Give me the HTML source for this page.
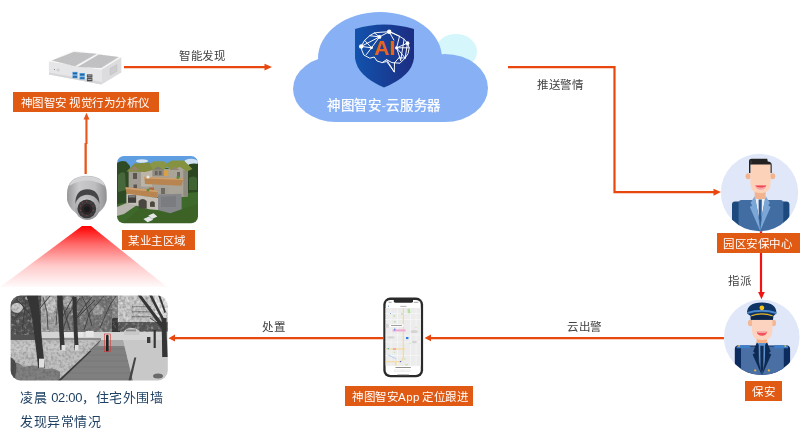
<!DOCTYPE html>
<html lang="zh-CN">
<head>
<meta charset="utf-8">
<style>
html,body{margin:0;padding:0;background:#fff;}
body{width:800px;height:437px;overflow:hidden;position:relative;font-family:"Liberation Sans",sans-serif;}
svg{position:absolute;left:0;top:0;}
.t{position:absolute;white-space:nowrap;line-height:1;will-change:transform;}
.lbl{position:absolute;background:#E05A14;color:#fff;font-size:11.5px;letter-spacing:0.5px;line-height:22px;height:20px;white-space:nowrap;box-sizing:border-box;will-change:transform;}
.cap{color:#444;font-size:11.5px;letter-spacing:0.5px;}
</style>
</head>
<body>
<svg width="800" height="437" viewBox="0 0 800 437">
  <defs>
    <linearGradient id="shieldG" x1="0" y1="0" x2="1" y2="0">
      <stop offset="0" stop-color="#1253AD"/>
      <stop offset="1" stop-color="#1C2D82"/>
    </linearGradient>
    <linearGradient id="redG" x1="0" y1="0" x2="0" y2="1">
      <stop offset="0" stop-color="#FF0000"/>
      <stop offset="0.3" stop-color="#FF6A6A"/>
      <stop offset="0.65" stop-color="#FFCACA"/>
      <stop offset="1" stop-color="#FFFAFA"/>
    </linearGradient>
    <clipPath id="c1"><circle cx="759.5" cy="192.5" r="38.7"/></clipPath>
    <clipPath id="c2"><circle cx="761.7" cy="337.3" r="37.8"/></clipPath>
  </defs>

  <!-- mini pc -->
  <g id="minipc">
    <polygon points="48.75,61.2 101.3,69.4 101.5,84.4 49,74.5" fill="#E6E6E8"/>
    <polygon points="49,72.5 101.5,82 101.5,84.4 49,74.5" fill="#D6D6D8"/>
    <polygon points="101.3,69.4 121.3,57.3 121.3,72.5 101.5,84.4" fill="#DCDCDE"/>
    <polygon points="48.75,61.2 73.5,50.5 121.3,57.3 101.3,69.4" fill="#F5F5F5"/>
    <polygon points="51.9,60.6 73.75,51.9 96.9,53.75 75,66.25" fill="#C2C2C4"/>
    <polygon points="77.5,66.9 98.75,54.4 118.75,56.9 101.25,68.1" fill="#C2C2C4"/>
    <g stroke="#B0B0B2" stroke-width="0.3" opacity="0.8">
      <line x1="55" y1="60.5" x2="76" y2="52.2"/><line x1="59" y1="61.8" x2="80" y2="52.6"/>
      <line x1="63" y1="63.1" x2="84" y2="53"/><line x1="67" y1="64.4" x2="88" y2="53.4"/><line x1="71" y1="65.5" x2="92" y2="53.7"/>
      <line x1="81" y1="66.4" x2="102" y2="54.9"/><line x1="86" y1="67" x2="106" y2="55.4"/>
      <line x1="91" y1="67.5" x2="110" y2="55.9"/><line x1="96" y1="67.9" x2="114" y2="56.4"/>
    </g>
    <circle cx="58.1" cy="70" r="1.2" fill="#D8D8DA" stroke="#BBBBBD" stroke-width="0.4"/>
    <circle cx="54.4" cy="69.6" r="0.5" fill="#666"/>
    <rect x="72.5" y="71.9" width="5" height="2.9" fill="#3D8FD6"/>
    <rect x="72.5" y="75.3" width="5" height="2.9" fill="#3D8FD6"/>
    <rect x="79.6" y="73.1" width="5.2" height="2.9" fill="#3D8FD6"/>
    <rect x="79.6" y="76.5" width="5.2" height="2.9" fill="#3D8FD6"/>
    <rect x="73.1" y="73.1" width="3.8" height="0.8" fill="#1F4F80"/>
    <rect x="73.1" y="76.5" width="3.8" height="0.8" fill="#1F4F80"/>
    <rect x="80.3" y="74.3" width="3.8" height="0.8" fill="#1F4F80"/>
    <rect x="80.3" y="77.7" width="3.8" height="0.8" fill="#1F4F80"/>
    <rect x="86.9" y="74.4" width="5.5" height="3.2" fill="#48484A"/>
    <rect x="86.9" y="78.1" width="5.5" height="3.2" fill="#48484A"/>
    <rect x="87.7" y="75.3" width="3.9" height="1" fill="#A8A8A8"/>
    <rect x="87.7" y="79" width="3.9" height="1" fill="#A8A8A8"/>
    <polygon points="110,68.5 116.9,64.6 116.9,71.4 110,75.2" fill="#CDCDD0" stroke="#B8B8BB" stroke-width="0.4"/>
  </g>

  <!-- camera -->
  <g id="cam">
    <defs>
      <linearGradient id="camG" x1="0" y1="0" x2="1" y2="0">
        <stop offset="0" stop-color="#98989A"/>
        <stop offset="0.3" stop-color="#CACACC"/>
        <stop offset="0.7" stop-color="#BEBEC0"/>
        <stop offset="1" stop-color="#909092"/>
      </linearGradient>
      <radialGradient id="ballG" cx="0.4" cy="0.3" r="0.8">
        <stop offset="0" stop-color="#D0D0D2"/>
        <stop offset="1" stop-color="#8E8E90"/>
      </radialGradient>
    </defs>
    <path d="M67,194 Q67,176 87,175.7 Q106.7,176 106.7,194 L106.7,200 Q104,213 87,218.5 Q70,213 67,200 Z" fill="url(#camG)"/>
    <path d="M69,186 Q72,177 87,176.6 Q102,177 105,186 Q96,180.5 87,180.5 Q78,180.5 69,186 Z" fill="#D4D4D6"/>
    <path d="M75.3,204 Q75.3,189.2 87.3,189.2 Q99.4,189.2 99.4,204 Z" fill="#454547"/>
    <circle cx="87.3" cy="207.3" r="12.6" fill="url(#ballG)"/>
    <circle cx="86.8" cy="208.8" r="9.4" fill="#38383A"/>
    <circle cx="87" cy="209.2" r="5.4" fill="#2A2426"/>
    <circle cx="87" cy="209.2" r="2.8" fill="#1A1A1C"/>
    <g fill="#8A4A4A">
      <circle cx="80.6" cy="205.9" r="0.6"/><circle cx="82.5" cy="202.8" r="0.6"/><circle cx="86.8" cy="201.6" r="0.6"/>
      <circle cx="91.1" cy="202.8" r="0.6"/><circle cx="93" cy="205.9" r="0.6"/><circle cx="93.1" cy="210.4" r="0.6"/>
      <circle cx="91" cy="214.0" r="0.6"/><circle cx="86.8" cy="215.6" r="0.6"/><circle cx="82.6" cy="214.0" r="0.6"/>
      <circle cx="80.5" cy="210.4" r="0.6"/>
    </g>
  </g>

  <!-- house photo -->
  <clipPath id="hc"><rect x="117" y="156" width="81" height="67.2" rx="7"/></clipPath>
  <filter id="soft2" x="-5%" y="-5%" width="110%" height="110%"><feGaussianBlur stdDeviation="0.35"/></filter>
  <g clip-path="url(#hc)"><g filter="url(#soft2)">
    <rect x="115" y="154" width="85" height="72" fill="#3A5E28"/>
    <rect x="115" y="154" width="85" height="14" fill="#5E9EE0"/>
    <ellipse cx="142" cy="161" rx="6" ry="1.8" fill="#D8E6F4"/>
    <ellipse cx="191" cy="162" rx="7" ry="3.2" fill="#D2E2F2"/>
    <!-- trees -->
    <path d="M117,163 Q121,160 126,161.5 L130,166 L130,203 L117,205 Z" fill="#2F4C25"/>
    <path d="M118,175 Q121,171 125,173 L126,190 L118,192 Z" fill="#46683A"/>
    <path d="M186.5,166 Q191,162.5 198,164 L198,196 L186.5,196 Z" fill="#2B4722"/>
    <path d="M189,178 Q193,175 197,178 L197,190 L189,190 Z" fill="#3F6432"/>
    <!-- lawn -->
    <path d="M117,204 L130,202 L158,209 L181.6,193.5 L198,192 L198,224 L117,224 Z" fill="#3E6A2A"/>
    <path d="M121.5,224 L140,208.5 L170,213.5 L198,204 L198,224 Z" fill="#3C6228"/>
    <!-- path -->
    <polygon points="117,207 128,202.5 137,205 124,214 117,216" fill="#B8B4AE"/>
    <!-- walls -->
    <polygon points="128.8,169 188,169 188,196.5 181.6,197 170,199 158,197 128.8,195" fill="#A4A096"/>
    <rect x="128.8" y="170" width="12.5" height="24.6" fill="#A09C94"/>
    <rect x="141" y="170" width="12.4" height="16.5" fill="#BCB4A6"/>
    <rect x="152.4" y="168.5" width="11.5" height="8.5" fill="#8E8A82"/>
    <rect x="163.8" y="170.3" width="4.8" height="8.1" fill="#D8A048"/>
    <rect x="168.6" y="167" width="14.7" height="27.6" fill="#A8A498"/>
    <rect x="183.3" y="170.3" width="4.7" height="26" fill="#8E8A80"/>
    <rect x="152" y="176" width="17" height="12" fill="#A6A298"/>
    <!-- roofs -->
    <polygon points="126.5,171.5 134.5,163.5 150,162.5 153,170 145,172" fill="#808B3E"/>
    <polygon points="150,163.8 154,161.3 163.8,161.3 169.4,165.4 163.8,169.4 152.4,169.4" fill="#8A9646"/>
    <polygon points="166,164 171.9,160.5 184,160.5 192.5,169 187,171.5 180,167 170.3,170" fill="#85923F"/>
    <polygon points="129.5,170.3 134.5,166 140,170.3" fill="#93846E"/>
    <polygon points="153,169.4 158,166.5 163,169.4" fill="#7E7A72"/>
    <polygon points="170.5,170 174.5,166.5 179.5,170" fill="#928672"/>
    <!-- windows -->
    <rect x="133" y="173" width="4" height="6" fill="#5A564F"/>
    <rect x="133.5" y="184.5" width="3.5" height="4.5" fill="#5A564F"/>
    <rect x="155" y="171" width="2.5" height="4" fill="#66625B"/>
    <rect x="159" y="171" width="2.5" height="4" fill="#66625B"/>
    <rect x="177" y="172" width="3" height="5" fill="#6A665E"/>
    <rect x="149" y="187.5" width="5" height="6" fill="#B0683A"/>
    <rect x="161" y="188" width="4" height="6" fill="#6E6A62"/>
    <!-- balconies -->
    <polygon points="144.3,176.8 183.3,178.4 181.6,185.7 145,184" fill="#B88450"/>
    <polygon points="144.3,176.8 183.3,178.4 183.2,180 144.4,178.4" fill="#CFA070"/>
    <polygon points="125.6,187.3 158,190.6 157.3,197.9 126.4,193.8" fill="#B88450"/>
    <polygon points="125.6,187.3 158,190.6 157.9,192.2 125.7,188.9" fill="#CFA070"/>
    <circle cx="148" cy="177" r="1.6" fill="#E8E8E4"/>
    <circle cx="178" cy="177.5" r="1.6" fill="#5E8A3A"/>
    <circle cx="148" cy="190" r="1.5" fill="#5E8A3A"/>
    <!-- base -->
    <polygon points="126.4,193.8 158,197.9 158,210 149.1,209.3 126.4,202.8" fill="#C4C0B8"/>
    <rect x="128" y="195.4" width="8.1" height="7.4" fill="#403E3A"/>
    <rect x="128.5" y="196.2" width="7" height="1.2" fill="#8A8A88"/>
    <path d="M138.6,208.4 L138.6,201 Q142.6,197.2 146.7,201 L146.7,208.6 Z" fill="#4A4640"/>
    <path d="M150,206.8 L150,202.6 Q152.4,200 154.8,202.6 L154.8,207 Z" fill="#4A4640"/>
    <polygon points="158,194.6 181.6,193.8 181.6,209.3 170.3,213.3 158,210" fill="#85878A"/>
    <polygon points="161,197 176,196 176,207 161,207" fill="#7A7C80"/>
    <!-- chairs -->
    <polygon points="143.4,219 149,216.6 153.2,219.8 147.6,222.3" fill="#E4E6E8"/>
    <polygon points="148.3,215.6 153.5,213.3 157.3,216.4 152,219" fill="#E4E6E8"/>
  </g></g>

  <!-- surveillance photo -->
  <filter id="noise" x="0" y="0" width="100%" height="100%">
    <feTurbulence type="fractalNoise" baseFrequency="0.35" numOctaves="2" seed="3" result="n"/>
    <feColorMatrix type="matrix" values="0 0 0 0 0  0 0 0 0 0  0 0 0 0 0  0 0 0 -2.2 1.3" in="n" result="a"/>
    <feComposite in="SourceGraphic" in2="a" operator="in"/>
  </filter>
  <filter id="noiseW" x="0" y="0" width="100%" height="100%">
    <feTurbulence type="fractalNoise" baseFrequency="0.3" numOctaves="2" seed="7" result="n"/>
    <feColorMatrix type="matrix" values="0 0 0 0 1  0 0 0 0 1  0 0 0 0 1  0 0 0 2.4 -1.25" in="n"/>
  </filter>
  <clipPath id="pc"><rect x="10.6" y="295.5" width="157.2" height="85" rx="10"/></clipPath>
  <filter id="soft" x="-5%" y="-5%" width="110%" height="110%"><feGaussianBlur stdDeviation="0.45"/></filter>
  <g clip-path="url(#pc)"><g filter="url(#soft)">
    <rect x="8" y="293" width="164" height="90" fill="#B4B4B4"/>
    <!-- top foliage zone -->
    <rect x="10" y="295" width="160" height="39" fill="#8A8A8A"/>
    <rect x="10" y="295" width="31" height="45" fill="#525252"/>
    <ellipse cx="17" cy="308" rx="6" ry="5" fill="#C8C8C8"/>
    <ellipse cx="32" cy="298" rx="7" ry="3" fill="#B0B0B0"/>
    <rect x="41" y="295" width="19" height="38" fill="#A4A4A4"/>
    <ellipse cx="51" cy="305" rx="5" ry="8" fill="#C4C4C4"/>
    <rect x="60" y="295" width="52" height="37" fill="#747474"/>
    <ellipse cx="68" cy="302" rx="5" ry="6" fill="#A8A8A8"/>
    <ellipse cx="98" cy="310" rx="6" ry="5" fill="#9A9A9A"/>
    <rect x="112" y="318" width="8" height="17" fill="#3A3A3A"/>
    <rect x="118" y="295" width="50" height="27" fill="#C8C8C8"/>
    <rect x="155" y="295" width="14" height="22" fill="#E6E6E6"/>
    <rect x="131.4" y="303" width="20.6" height="19" fill="#C4C4C4"/>
    <g fill="#8A8A8A"><rect x="132" y="306" width="19" height="1.4"/><rect x="132" y="311" width="19" height="1.4"/><rect x="132" y="316" width="19" height="1.4"/></g>
    <rect x="118" y="322" width="50" height="9" fill="#5A5A5A"/>
    <rect x="10" y="295" width="160" height="40" filter="url(#noiseW)" opacity="0.45"/>
    <rect x="10" y="295" width="160" height="40" fill="#222" filter="url(#noise)" opacity="0.3"/>
    <g stroke="#3A3A3A" stroke-width="0.8" fill="none">
      <path d="M62,332 L68,315 L80,298"/><path d="M70,330 L64,310 L60,297"/><path d="M84,330 L90,312 L104,296"/>
      <path d="M92,326 L86,305 L82,296"/><path d="M100,328 L110,305 L116,296"/><path d="M75,320 L95,300"/>
      <path d="M22,330 L26,300"/><path d="M14,320 L24,308"/><path d="M48,330 L47,312 L43,297"/><path d="M56,325 L58,300"/>
    </g>
    <!-- light ground band -->
    <rect x="41" y="332" width="129" height="9" fill="#D4D4D4"/>
    <g fill="#E6E6E6"><rect x="64" y="332" width="9" height="5"/><rect x="77.5" y="332" width="6" height="5"/><rect x="85.7" y="331" width="8" height="6"/></g>
    <rect x="41" y="338" width="60" height="2.5" fill="#8E8E8E"/>
    <!-- car -->
    <path d="M124,335 L124,331 Q127,327.5 132,328 Q137,328 139.6,331 L139.6,335 Z" fill="#C8C8C8"/>
    <rect x="126" y="329.5" width="10" height="1.8" fill="#8A8A8A"/>
    <!-- left lawn -->
    <polygon points="10,340 101,340 60,381 10,381" fill="#C0C0C0"/>
    <polygon points="10,342 60,345 90,342 60,352 10,352" fill="#C8C8C8"/>
    <path d="M10,363 Q18,361 24,367 Q35,363 45,369 Q54,367 60,372 L60,381 L10,381 Z" fill="#808080"/>
    <path d="M10,357 Q16,359 16.5,368 Q16,376 13,381 L10,381 Z" fill="#4E4E4E"/>
    <polygon points="10,340 101,340 60,381 10,381" fill="#333" filter="url(#noise)" opacity="0.3"/>
    <!-- path -->
    <polygon points="100.6,340 123,340 133,381 59,381" fill="#808080"/>
    <polygon points="100.6,340 123,340 125,346 98,346" fill="#A8A8A8"/>
    <g stroke="#6E6E6E" stroke-width="0.45">
      <line x1="92" y1="349" x2="126" y2="349"/><line x1="86" y1="355" x2="127.5" y2="355"/>
      <line x1="80" y1="361" x2="129" y2="361"/><line x1="74" y1="367" x2="130" y2="367"/>
      <line x1="68" y1="373" x2="131.5" y2="373"/><line x1="62" y1="379" x2="133" y2="379"/>
    </g>
    <polygon points="89.6,351 91.5,351 60.3,381 57.5,381" fill="#3A3A3A"/>
    <line x1="100.6" y1="340.3" x2="89.6" y2="351" stroke="#555" stroke-width="1"/>
    <!-- right lawn -->
    <polygon points="123,340 170,340 170,381 133,381" fill="#C8C8C8"/>
    <polygon points="134.3,357.6 136.3,357.6 130.9,381 128.4,381" fill="#454545"/>
    <ellipse cx="158" cy="376" rx="5" ry="2.5" fill="#6A6A6A"/>
    <rect x="147" y="337" width="3.4" height="6" fill="#3A3A3A"/>
    <!-- trees -->
    <g fill="#353535">
      <path d="M26,295 L38.5,295 Q38.5,305 40,316 Q42,345 45.2,368 L38.3,368 Q35,340 32.5,320 Q30,305 26,295 Z"/>
      <path d="M57,295 L62.6,295 Q62.6,322 64.9,350 L60.3,350 Q58.8,322 57,295 Z"/>
      <path d="M72.3,297 L76.6,297 Q76.8,325 78.9,350 L74.6,350 Q73.6,325 72.3,297 Z"/>
      <path d="M161.5,318 L166.5,318 Q166.5,338 167.8,357 L162.2,357 Q162,338 161.5,318 Z"/>
      <path d="M153.6,330 L155.8,330 L155.8,348 L153.6,348 Z"/>
      <path d="M137.5,295 L141,295 Q152,310 165.5,327 L162,329 Q150,312 137.5,295 Z"/>
      <path d="M149,295 L152,295 Q158,308 166,322 L163.5,323 Q156,309 149,295 Z"/>
      <path d="M158,295 L160,295 L166,312 L164.5,313 Z"/>
    </g>
    <g stroke="#3A3A3A" stroke-width="0.9" fill="none">
      <path d="M33,318 Q24,306 16,299"/><path d="M37,312 Q44,303 50,296"/><path d="M62,318 Q68,306 74,296"/>
      <path d="M76,318 Q84,306 92,297"/><path d="M163,330 Q158,322 150,318"/>
    </g>
    <g fill="#E0E0E0">
      <rect x="39" y="358.7" width="5.4" height="9"/>
      <rect x="61.5" y="345" width="3.8" height="5.5"/>
      <rect x="75" y="345" width="3.8" height="5.5"/>
    </g>
    <!-- person -->
    <rect x="106" y="336.5" width="2.6" height="15" fill="#222"/>
    <circle cx="107.3" cy="336" r="1.3" fill="#222"/>
  </g>
    <rect x="104.3" y="334" width="6.2" height="17.7" fill="none" stroke="#D23A3A" stroke-width="0.6"/>
  </g>

  <!-- red view cone -->
  <polygon points="82,226 91,226 167,287 0,287" fill="url(#redG)"/>

  <!-- cloud -->
  <ellipse cx="456" cy="51.5" rx="21" ry="17.5" fill="#D5F7FB"/>
  <g fill="#88B1F5">
    <ellipse cx="380" cy="58" rx="62" ry="46"/>
    <ellipse cx="336" cy="89" rx="43" ry="33"/>
    <ellipse cx="445" cy="88" rx="43" ry="34"/>
    <rect x="336" y="80" width="110" height="42"/>
  </g>

  <!-- shield -->
  <path d="M355,29 Q384,20 414,29 L414,58 Q412,76 384,87.5 Q357,76 355,58 Z" fill="url(#shieldG)"/>
  <g stroke="#fff" stroke-width="0.95" fill="none" stroke-linejoin="round" stroke-linecap="round">
    <path d="M361.2,46.4 L364.6,40.3 L369.7,35.7 L374.3,32.9 L380,32.3 L389.2,31.7 L393.8,33.4 L399.5,36.3 L404.1,39.2 L407.5,43.2 L409.2,47.8 L408.1,53.5 L405.2,58 L400,63.2 L394.5,62.8 L394.3,72 L386.6,61.5 L382.2,62.6 L377,61 L374.2,57 L369.8,58.2 L363.8,55 L362,50.6 Z"/>
    <path d="M361.2,46.4 L379.5,36.9 L389.2,31.7 L399.5,36.3"/>
    <path d="M361.2,46.4 L371.5,47.8 L366.3,54.6"/>
    <path d="M369.7,35.7 L379.5,36.9 L374.3,32.9"/>
    <path d="M371.5,47.8 L379.5,36.9"/>
    <path d="M364.6,40.3 L371.5,47.8"/>
    <path d="M396.6,47.8 L407.5,43.2 M396.6,47.8 L409.2,47.8 M396.6,47.8 L405.2,58 M396.6,47.8 L400.7,60.4 M396.6,47.8 L399.5,36.3"/>
    <path d="M404.1,39.2 L400.7,60.4 M407.5,43.2 L405.2,58"/>
    <path d="M382.2,62.6 L386.6,59.6 L391.9,62.6 L394.5,62.8 M386.6,59.6 L394.3,72 M399,57.8 L394.5,62.8 M399,57.8 L405.2,58"/>
    <path d="M389.2,31.7 L393.8,40"/>
  </g>
  <g fill="#fff">
    <circle cx="361.2" cy="46.4" r="2.2"/>
    <circle cx="379.5" cy="36.9" r="1.9"/>
    <circle cx="389.2" cy="31.7" r="2.2"/>
    <circle cx="407.5" cy="43.2" r="1.9"/>
    <circle cx="396.6" cy="47.8" r="1.6"/>
    <circle cx="371.5" cy="47.8" r="1.4"/>
  </g>
  <text x="384.6" y="55.4" text-anchor="middle" font-family="Liberation Sans" font-weight="bold" font-size="21" fill="#E8641E">AI</text>

  <!-- arrows orange -->
  <g stroke="#E8470E" stroke-width="2.2" fill="none">
    <line x1="124" y1="67.2" x2="266" y2="67.2"/>
    <polyline points="508,67.2 614.5,67.2 614.5,192.2 715,192.2"/>
    <line x1="430" y1="338.1" x2="724" y2="338.1"/>
    <line x1="174" y1="338.2" x2="383" y2="338.2"/>
  </g>
  <g fill="#E8470E">
    <polygon points="264.5,63.8 272,67 264.5,70.6"/>
    <polygon points="713.5,188.8 721,192 713.5,195.8"/>
    <polygon points="431,334.5 424.5,338 431,341.3"/>
    <polygon points="175,334.5 168.5,338.3 175,341.5"/>
  </g>
  <!-- vertical arrow from camera to label -->
  <g fill="#E8561A">
    <rect x="84.5" y="143" width="2.3" height="31"/>
    <rect x="85.4" y="118" width="2.1" height="26"/>
    <polygon points="83.5,119.5 86.5,112.8 89.5,119.5"/>
  </g>
  <!-- red arrow 指派 -->
  <rect x="759.9" y="229" width="2.2" height="64" fill="#F01414"/>
  <polygon points="758.1,292 764.8,292 761.5,299.2" fill="#F01414"/>

  <!-- avatar 1 -->
  <circle cx="759.5" cy="192.5" r="38.7" fill="#E0E7F9"/>
  <g clip-path="url(#c1)">
    <!-- suit -->
    <path d="M732,204.5 Q732,201.6 735,201.6 L739,201.6 L739,240 L732,240 Z" fill="#1D4A7E"/>
    <path d="M783,201.6 L786.4,201.6 Q789.4,201.6 789.4,204.5 L789.4,240 L783,240 Z" fill="#1D4A7E"/>
    <path d="M738.6,203 Q738.6,200 741.6,200 L780.3,200 Q783.3,200 783.3,203 L783.3,240 L738.6,240 Z" fill="#416DA3"/>
    <path d="M755,198 L765.4,198 L760.2,223.5 Z" fill="#E9EDF4"/>
    <path d="M758.6,199.5 L761.8,199.5 L761.6,218 L760.2,225.5 L758.8,218 Z" fill="#2D5B93"/>
    <path d="M754.6,196.3 L750.5,203 L752.2,205.3 L749.8,207 L760.2,231 L757.8,212 L755.4,198.5 Z" fill="#7AA7D7"/>
    <path d="M765.8,196.3 L769.9,203 L768.2,205.3 L770.6,207 L760.2,231 L762.6,212 L765,198.5 Z" fill="#7AA7D7"/>
    <!-- neck -->
    <rect x="754.7" y="188" width="10.9" height="11" fill="#F2B48E"/>
    <!-- ears -->
    <ellipse cx="748.2" cy="176.2" rx="2.6" ry="3" fill="#F2B48E"/>
    <ellipse cx="772.6" cy="176.2" rx="2.6" ry="3" fill="#F2B48E"/>
    <!-- face -->
    <path d="M750.4,163.5 L770.6,163.5 L770.6,184 Q770.6,193 760.5,193 Q750.4,193 750.4,184 Z" fill="#FCD3B8"/>
    <!-- hair -->
    <path d="M749,173 L749,161 Q749,158.7 751.5,158.7 L767.2,158.7 L767.8,161.6 Q771.7,162 771.7,165 L771.7,173 L770.6,173 L770.6,164.5 L750.4,164.5 L750.4,173 Z" fill="#222222"/>
    <path d="M751,160.5 L751,165" stroke="#555" stroke-width="0.6"/>
    <!-- mouth -->
    <path d="M755.3,185.6 L766.3,185.6 Q765.5,189.8 760.8,189.8 Q756.1,189.8 755.3,185.6 Z" fill="#F6A3A6"/>
    <path d="M755.3,185.6 L766.3,185.6 Q766,187.4 760.8,187.4 Q755.6,187.4 755.3,185.6 Z" fill="#EF4650"/>
  </g>

  <!-- avatar 2 -->
  <circle cx="761.7" cy="337.3" r="37.8" fill="#E0E7F9"/>
  <g clip-path="url(#c2)">
    <path d="M734.8,349 Q734.8,345.5 738,345.5 L786.8,345.5 Q790.1,345.5 790.1,349 L790.1,380 L734.8,380 Z" fill="#0C2B5E"/>
    <path d="M741,346.5 L783.8,346.5 L783.8,380 L741,380 Z" fill="#4A6FA5"/>
    <path d="M737,345.3 L750.2,345.3 L750.2,348.2 L736.5,348.2 Z" fill="#3D7FCB"/>
    <path d="M774.2,345.3 L787.5,345.3 L788.2,348.2 L774.2,348.2 Z" fill="#3D7FCB"/>
    <circle cx="739.1" cy="345.9" r="1" fill="#E8B42A"/>
    <circle cx="785.3" cy="345.9" r="1" fill="#E8B42A"/>
    <path d="M757.4,342.5 L766.8,342.5 L763.6,365 L761.9,376 L760.2,365 Z" fill="#5E93D4"/>
    <path d="M760.3,345.8 L763.6,345.8 L763.3,368 L761.9,375 L760.5,368 Z" fill="#102A50"/>
    <path d="M757,342 L753.2,351.5 L755,353 L752.6,354.5 L761.9,375.5 L758.8,362 L758.7,345 Z" fill="#0D2A52"/>
    <path d="M767,342 L770.7,351.5 L768.9,353 L771.3,354.5 L761.9,375.5 L765,362 L765.1,345 Z" fill="#0D2A52"/>
    <circle cx="755.2" cy="370.4" r="1.1" fill="#E8B42A"/>
    <circle cx="768.9" cy="370.4" r="1.1" fill="#E8B42A"/>
    <rect x="756.6" y="335" width="10.4" height="8" fill="#F7AE80"/>
    <ellipse cx="750.5" cy="323" rx="2.6" ry="3.2" fill="#F3B796"/>
    <ellipse cx="773.5" cy="323" rx="2.6" ry="3.2" fill="#F3B796"/>
    <path d="M752,316 L772.4,316 L772.4,331 Q772.4,340 762.2,340 Q752,340 752,331 Z" fill="#FBD3BE"/>
    <path d="M756.7,331.8 L767.2,331.8 Q766.4,335.8 762,335.8 Q757.5,335.8 756.7,331.8 Z" fill="#F0555E"/><path d="M756.7,331.8 L767.2,331.8 Q767,333 762,333 Q756.9,333 756.7,331.8 Z" fill="#F7A3A6"/>
    <!-- cap -->
    <path d="M747,313.5 Q746.8,302.5 761.7,302.5 Q776.6,302.5 776.4,313.5 L773.3,316 L773,319.8 L750.8,319.8 L750.6,316 Z" fill="#0F3466"/>
    <path d="M747.2,311.9 Q761.7,307.4 776.2,311.9 L776.2,314 Q761.7,309.5 747.2,314 Z" fill="#4B89CF"/>
    <path d="M751.2,315.2 Q761.7,311.4 772.6,315.2 L772.6,316.5 Q761.7,312.7 751.2,316.5 Z" fill="#EDB521"/>
    <path d="M750.7,316.8 Q761.7,313.2 773.2,316.8 L772.9,319.8 L750.9,319.8 Z" fill="#0B2447"/>
    <circle cx="761.9" cy="307.8" r="2.4" fill="#F4C21C"/>
  </g>

  <!-- phone -->
  <rect x="383.3" y="297.6" width="39.8" height="79.6" rx="7" fill="#2A2A2A"/>
  <rect x="385.6" y="299.9" width="35.2" height="75" rx="5" fill="#fff"/>
  <path d="M393.8,299.9 L413,299.9 L413,301.3 Q413,302.8 411,302.8 L395.8,302.8 Q393.8,302.8 393.8,301.3 Z" fill="#2A2A2A"/>
  <rect x="388.6" y="301.8" width="3" height="0.9" fill="#999"/>
  <rect x="413.8" y="301.8" width="4.6" height="0.9" fill="#999"/>
  <rect x="400.3" y="305.9" width="6.2" height="0.9" fill="#AAA"/>
  <rect x="388" y="305.6" width="0.8" height="1.4" fill="#6A9AE8"/>
  <rect x="385.6" y="308" width="35.2" height="57.8" fill="#ECECEC"/>
  <g stroke="#F8F8F8" stroke-width="0.7">
    <line x1="385.6" y1="313.5" x2="420.8" y2="313.5"/>
    <line x1="385.6" y1="319.5" x2="420.8" y2="319.5"/>
    <line x1="385.6" y1="335" x2="420.8" y2="335"/>
    <line x1="385.6" y1="342" x2="420.8" y2="342"/>
    <line x1="385.6" y1="355.5" x2="420.8" y2="355.5"/>
    <line x1="391" y1="308" x2="391" y2="365.8"/>
    <line x1="397.5" y1="308" x2="397.5" y2="365.8"/>
    <line x1="410.5" y1="308" x2="410.5" y2="365.8"/>
    <line x1="416" y1="308" x2="416" y2="365.8"/>
  </g>
  <g stroke="#F6D890" stroke-width="1.1" fill="none">
    <polyline points="403.3,308 403.3,358.5 400.8,361.8 385.6,361.8"/>
    <line x1="385.6" y1="349" x2="405" y2="349"/>
    <line x1="396" y1="362" x2="396" y2="365.8"/>
  </g>
  <line x1="393" y1="349" x2="396" y2="349" stroke="#E8909A" stroke-width="1.2"/>
  <line x1="387.8" y1="354.8" x2="396.4" y2="359" stroke="#9CC2F0" stroke-width="0.7"/>
  <g fill="#B5E0A0">
    <rect x="393.5" y="315.2" width="1.6" height="1.5"/>
    <rect x="394" y="321" width="1.6" height="1.4"/>
    <path d="M407.5,308.8 L410,308.8 L410.5,313.3 L407.8,313.3 Z"/>
    <circle cx="416" cy="327.3" r="0.6"/>
    <circle cx="405" cy="359" r="0.7"/>
    <rect x="405" y="364.3" width="3" height="1"/>
    <circle cx="410" cy="343.2" r="0.6"/>
    <circle cx="394.5" cy="352.3" r="0.6"/>
  </g>
  <g fill="#D4D4D6">
    <ellipse cx="414.2" cy="331.5" rx="3.6" ry="1.6"/>
    <ellipse cx="390.9" cy="337.4" rx="3.6" ry="1.1"/>
    <ellipse cx="414.4" cy="342" rx="2.6" ry="1.2"/>
    <rect x="385.8" y="324" width="2.9" height="3.7"/>
  </g>
  <rect x="389.7" y="324.4" width="13.9" height="2.4" fill="#fff"/>
  <rect x="391" y="325.3" width="11" height="0.7" fill="#777"/>
  <rect x="392.6" y="329.4" width="13" height="2" fill="#F2A8D6"/>
  <rect x="394.2" y="328.6" width="1.1" height="1.8" fill="#3B7DE0"/>
  <rect x="390" y="313" width="0.8" height="0.8" fill="#3B7DE0"/>
  <rect x="401.5" y="313.5" width="0.8" height="0.8" fill="#3B7DE0"/>
  <rect x="406" y="337" width="2.4" height="2.1" fill="#2F7BEA"/>
  <circle cx="388.3" cy="348.6" r="0.7" fill="#2AA8B8"/>
  <circle cx="400.5" cy="361.6" r="0.7" fill="#3B55D0"/>
  <rect x="395.5" y="367.2" width="15.3" height="0.8" fill="#777"/>
  <rect x="394.5" y="370" width="7.2" height="1.4" fill="none" stroke="#CCC" stroke-width="0.35"/>
  <rect x="402.7" y="370" width="8.1" height="1.4" fill="none" stroke="#CCC" stroke-width="0.35"/>
  <rect x="397.4" y="374.6" width="11.6" height="0.9" fill="#555"/>
</svg>

<!-- labels -->
<div class="lbl" style="left:13px;top:92px;width:146px;padding-left:7.5px;word-spacing:-0.7px;">神图智安 视觉行为分析仪</div>
<div class="lbl" style="left:121.5px;top:230px;width:73px;padding-left:6px;">某业主区域</div>
<div class="lbl" style="left:717px;top:233px;width:83px;padding-left:6px;">园区安保中心</div>
<div class="lbl" style="left:745px;top:381px;width:37px;padding-left:7px;">保安</div>
<div class="lbl" style="left:345px;top:386px;width:128px;padding-left:7px;word-spacing:-1.2px;">神图智安App 定位跟进</div>

<div class="t cap" style="left:179px;top:51px;">智能发现</div>
<div class="t cap" style="left:537px;top:80px;">推送警情</div>
<div class="t cap" style="left:727.5px;top:275.5px;">指派</div>
<div class="t cap" style="left:566.5px;top:322px;">云出警</div>
<div class="t cap" style="left:262px;top:322px;">处置</div>

<div class="t" style="left:327px;top:99.3px;color:#fff;font-size:13.4px;letter-spacing:0.6px;-webkit-text-stroke:0.25px #fff;">神图智安<span style="opacity:.75;-webkit-text-stroke:0">-</span>云服务器</div>

<div class="t" style="left:19.5px;top:391px;color:#1F4163;font-size:13px;letter-spacing:0.5px;">凌晨 <span style="letter-spacing:-0.3px">02:00</span>，住宅外围墙</div>
<div class="t" style="left:19.5px;top:415px;color:#1F4163;font-size:13px;letter-spacing:0.5px;">发现异常情况</div>
</body>
</html>
